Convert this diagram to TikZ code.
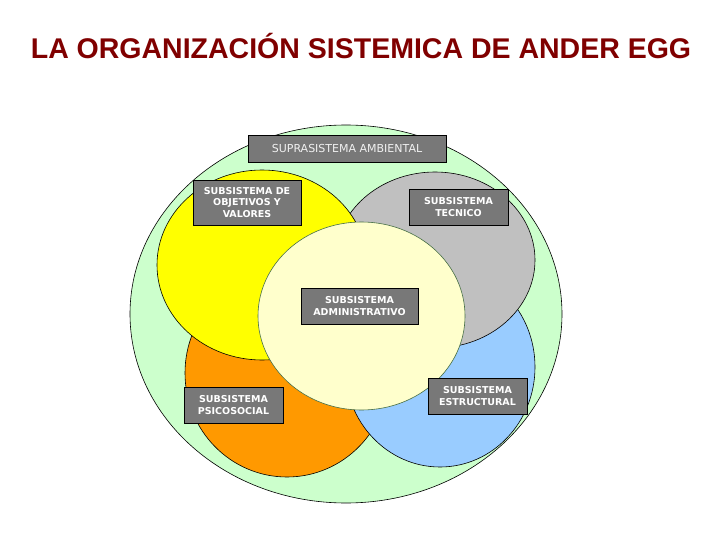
\documentclass[tikz,border=0pt]{standalone}
\usepackage{fontspec}
\setmainfont{DejaVu Sans}
\newfontfamily\titlefont{Liberation Sans}
\definecolor{titleRed}{RGB}{128,0,0}
\definecolor{supraGreen}{RGB}{204,255,204}
\definecolor{valYellow}{RGB}{255,255,0}
\definecolor{tecGray}{RGB}{192,192,192}
\definecolor{psiOrange}{RGB}{255,153,0}
\definecolor{estBlue}{RGB}{153,204,255}
\definecolor{admCream}{RGB}{255,255,204}
\definecolor{admEdge}{RGB}{70,110,70}
\definecolor{boxGray}{RGB}{120,120,120}
\begin{document}
\begin{tikzpicture}[x=1pt, y=-1pt,
    ringStyle/.style={draw=black, line width=0.6pt},
    boxStyle/.style={draw=black, fill=boxGray, text=white, line width=0.7pt, inner sep=0pt, align=center,
        font=\fontsize{9.5}{11.7}\selectfont\bfseries}]
    \useasboundingbox[fill=white] (0,0) rectangle (720,540);
    \node[font=\titlefont\fontsize{28.5}{30}\selectfont\bfseries, text=titleRed](title) at (361,46) {LA ORGANIZACIÓN SISTEMICA DE ANDER EGG};

    \draw[ringStyle, fill=supraGreen] (346,314) ellipse [x radius=216, y radius=189];
    \draw[ringStyle, fill=psiOrange] (287,373) ellipse [x radius=102, y radius=104];
    \draw[ringStyle, fill=estBlue] (440,367) ellipse [x radius=95, y radius=100];
    \draw[ringStyle, fill=tecGray] (435,260) ellipse [x radius=100, y radius=88];
    \draw[ringStyle, fill=valYellow] (262,265) ellipse [x radius=105, y radius=95];
    \draw[ringStyle, draw=admEdge, fill=admCream] (361.5,316) ellipse [x radius=103.5, y radius=94];

    \node[boxStyle, minimum width=198, minimum height=27, text=white!94!black,
        font=\fontsize{11}{13}\selectfont](supra) at (347,148.5) {SUPRASISTEMA AMBIENTAL};
    \node[boxStyle, minimum width=108, minimum height=45](valores) at (247,202.5) {SUBSISTEMA DE\\OBJETIVOS Y\\VALORES};
    \node[boxStyle, minimum width=99, minimum height=36](tecnico) at (458.5,207) {SUBSISTEMA\\TECNICO};
    \node[boxStyle, minimum width=117, minimum height=36](admin) at (359.5,306) {SUBSISTEMA\\ADMINISTRATIVO};
    \node[boxStyle, minimum width=99, minimum height=36](psico) at (233.5,405) {SUBSISTEMA\\PSICOSOCIAL};
    \node[boxStyle, minimum width=99, minimum height=36](estruct) at (477.5,396) {SUBSISTEMA\\ESTRUCTURAL};
\end{tikzpicture}
\end{document}
